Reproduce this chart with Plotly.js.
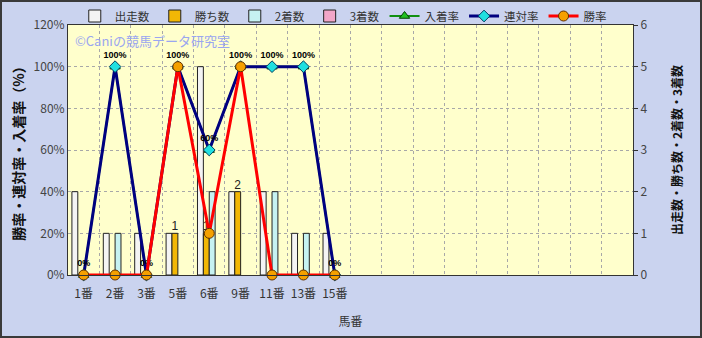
<!DOCTYPE html>
<html>
<head>
<meta charset="utf-8">
<script src="https://cdn.plot.ly/plotly-3.0.1.min.js"></script>
<style>
  html, body { margin: 0; padding: 0; background: #cad3ef; }
  #wrap { position: relative; width: 702px; height: 338px; }
  #chart { position: absolute; left: 0; top: 0; width: 702px; height: 338px; }
  #frame { position: absolute; left: 0; top: 0; width: 702px; height: 338px; box-sizing: border-box; border: 2px solid #3a3a3a; pointer-events: none; }
</style>
</head>
<body>
<div id="wrap"><div id="chart"></div><div id="frame"></div></div>
<script>
// ---- data ----
const categories = ['1番', '2番', '3番', '5番', '6番', '9番', '11番', '13番', '15番'];
const starts   = [2, 1, 1, 1, 5, 2, 2, 1, 1];   // 出走数
const wins     = [0, 0, 0, 1, 1, 2, 0, 0, 0];   // 勝ち数
const seconds  = [0, 1, 0, 0, 2, 0, 2, 1, 0];   // 2着数
const thirds   = [0, 0, 0, 0, 0, 0, 0, 0, 0];   // 3着数
const placeRate = [0, 100, 0, 100, 60, 100, 100, 100, 0]; // 入着率
const rentaiRate = [0, 100, 0, 100, 60, 100, 100, 100, 0]; // 連対率
const winRate   = [0, 0, 0, 100, 20, 100, 0, 0, 0];      // 勝率
const slotCount = 18;

const xs = categories.map((c, i) => i);
const boundaries = [];
for (let i = 0; i < slotCount - 1; i++) boundaries.push(i + 0.5);

const jp = '"Noto Sans CJK JP", "Noto Sans", sans-serif';
const barLine = { color: '#222', width: 1 };
// zero-count bars are not drawn at all (as in the reference)
const nz = vals => vals.map(v => v > 0 ? v : null);

const traces = [
  { type: 'bar', name: '出走数', x: xs, y: nz(starts), xaxis: 'x', yaxis: 'y',
    marker: { color: '#f4f4f4', line: barLine } },
  { type: 'bar', name: '勝ち数', x: xs, y: nz(wins), xaxis: 'x', yaxis: 'y',
    marker: { color: '#f2b705', line: barLine },
    text: wins.map(v => v > 0 ? String(v) : ''), textposition: 'outside',
    constraintext: 'none', cliponaxis: false,
    textfont: { size: 12, color: '#222', family: 'Arial, "Liberation Sans", sans-serif' } },
  { type: 'bar', name: '2着数', x: xs, y: nz(seconds), xaxis: 'x', yaxis: 'y',
    marker: { color: '#c6f2f2', line: barLine } },
  { type: 'bar', name: '3着数', x: xs, y: nz(thirds), xaxis: 'x', yaxis: 'y',
    marker: { color: '#f2a6c8', line: barLine } },
  { type: 'scatter', mode: 'lines+markers', name: '入着率', x: xs, y: placeRate,
    xaxis: 'x', yaxis: 'y2', cliponaxis: false,
    line: { color: '#109010', width: 2 },
    marker: { symbol: 'triangle-up', size: 9, color: '#20c020', line: { color: '#004000', width: 1 } } },
  { type: 'scatter', mode: 'lines+markers+text', name: '連対率', x: xs, y: rentaiRate,
    xaxis: 'x', yaxis: 'y2', cliponaxis: false,
    line: { color: '#000080', width: 3 },
    marker: { symbol: 'diamond', size: 9, color: '#20e0e0', line: { color: '#004060', width: 1 } },
    text: rentaiRate.map(v => v + '%'), textposition: 'top center',
    textfont: { size: 9, color: '#000', family: 'Arial, "Liberation Sans", sans-serif', weight: 'bold' } },
  { type: 'scatter', mode: 'lines+markers', name: '勝率', x: xs, y: winRate,
    xaxis: 'x', yaxis: 'y2', cliponaxis: false,
    line: { color: '#ff0000', width: 3 },
    marker: { symbol: 'circle', size: 10, color: '#f5a000', line: { color: '#603000', width: 1 } } }
];

const layout = {
  width: 702, height: 338,
  margin: { l: 68, r: 69, t: 25, b: 63, autoexpand: false },
  paper_bgcolor: '#cad3ef',
  plot_bgcolor: '#ffffcc',
  barmode: 'group', bargap: 0.25, bargroupgap: 0,
  font: { family: jp, size: 12, color: '#333' },
  showlegend: true,
  legend: { orientation: 'h', x: 0.012, xanchor: 'left', y: 1.036, yanchor: 'middle',
    bgcolor: 'rgba(0,0,0,0)', font: { size: 11.5, color: '#333', family: jp },
    traceorder: 'normal', itemwidth: 30 },
  xaxis: {
    range: [-0.5, slotCount - 0.5], tickmode: 'array', tickvals: xs, ticktext: categories,
    showgrid: false, zeroline: false, showline: true, linecolor: '#333', mirror: true,
    ticks: '', ticklabelstandoff: 8, tickfont: { size: 12, color: '#333' },
    minor: { tickmode: 'array', tickvals: boundaries, showgrid: true, griddash: 'dot', gridcolor: '#a8a8a8', gridwidth: 1, ticks: '' },
    title: { text: '馬番', font: { size: 12, color: '#333' }, standoff: 17 }
  },
  yaxis: {
    range: [0, 6], dtick: 1, side: 'right', showgrid: true, griddash: 'dot', gridcolor: '#a8a8a8',
    zeroline: false, showline: true, linecolor: '#333', ticks: 'outside', ticklen: 4, tickcolor: '#333',
    tickfont: { size: 12, color: '#444' },
    title: { text: '<b>出走数・勝ち数・2着数・3着数</b>', font: { size: 12, color: '#111' }, standoff: 27 }
  },
  yaxis2: {
    range: [0, 120], dtick: 20, ticksuffix: '%', overlaying: 'y', side: 'left',
    showgrid: false, zeroline: false, showline: true, linecolor: '#333', ticks: '',
    tickfont: { size: 12, color: '#444' },
    title: { text: '<b>勝率・連対率・入着率（%）</b>', font: { size: 14, color: '#111' }, standoff: 5 }
  },
  annotations: [
    { xref: 'paper', yref: 'paper', x: 0.008, y: 1, xanchor: 'left', yanchor: 'top', yshift: -4,
      text: '©Caniの競馬データ研究室', showarrow: false,
      font: { size: 13, color: '#9aa6f0', family: jp } }
  ]
};

Plotly.newPlot('chart', traces, layout, { displayModeBar: false, staticPlot: true });
</script>
</body>
</html>
